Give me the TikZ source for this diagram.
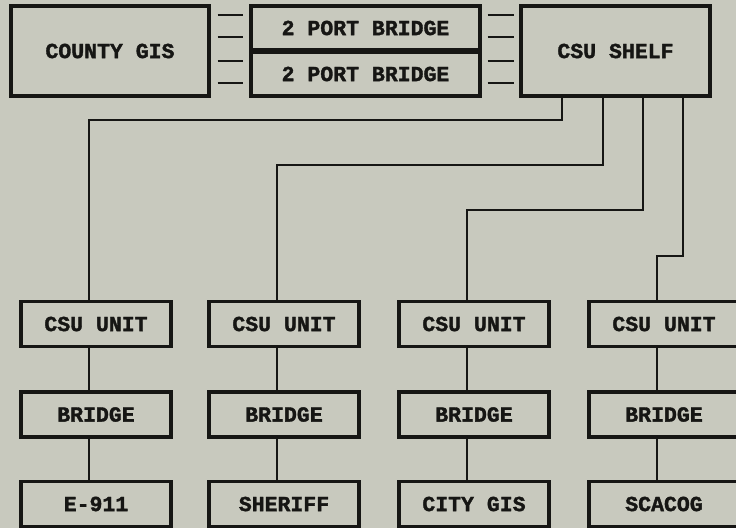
\documentclass[tikz,border=0pt]{standalone}
\usepackage{fontspec}
\newfontfamily\boxfont{Liberation Mono}[BoldFont={Liberation Mono Bold}, BoldFeatures={FakeBold=1.6}]
\usepackage{tikz}
\usetikzlibrary{calc,positioning}
\definecolor{paper}{RGB}{200,201,190}
\definecolor{ink}{RGB}{22,22,20}

\begin{document}
\begin{tikzpicture}[
  x=1pt, y=-1pt,
  box/.style={draw=ink, line width=3.2pt, fill=paper, inner sep=0pt,
    text=ink, font=\boxfont\bfseries\fontsize{21.5}{24}\selectfont},
  bigbox/.style={box, minimum width=198pt, minimum height=90pt},
  halfbox/.style={box, minimum width=229pt, minimum height=44pt},
  unitbox/.style={box, minimum width=150pt, minimum height=45pt},
  link/.style={draw=ink, line width=1.3pt}
]

% Page and background
\useasboundingbox (0,0) rectangle (736,528);
\clip (0,0) rectangle (736,528);
\fill[paper] (0,0) rectangle (736,528);

% Top row
\node[bigbox] (county) at (110,51) {COUNTY GIS};
\node[halfbox] (brgTop) at (365.5,28) {2 PORT BRIDGE};
\node[halfbox] (brgBot) at (365.5,74) {2 PORT BRIDGE};
\node[box, minimum width=189pt, minimum height=90pt] (shelf) at (615.5,51) {CSU SHELF};

% Short links beside the bridges
\foreach \y in {15,37,61,83} {
  \draw[link, shorten <=7pt, shorten >=6pt] (county.east |- 0,\y) -- (brgTop.west |- 0,\y);
  \draw[link, shorten <=6pt, shorten >=5pt] (brgTop.east |- 0,\y) -- (shelf.west |- 0,\y);
}

% Lower columns
\foreach \c/\x/\name in {A/96/E-911, B/284/SHERIFF, C/474/CITY GIS, D/664/SCACOG} {
  \node[unitbox] (unit\c) at (\x,324) {CSU UNIT};
  \node[unitbox] (brg\c) at (\x,414.5) {BRIDGE};
  \node[unitbox] (end\c) at (\x,504) {\name};
  \draw[link] ([xshift=-7pt]unit\c.south) -- ([xshift=-7pt]brg\c.north);
  \draw[link] ([xshift=-7pt]brg\c.south) -- ([xshift=-7pt]end\c.north);
  \coordinate (in\c) at ([xshift=-7pt]unit\c.north);
}

% Shelf feeders
\coordinate (outA) at ([xshift=-53.5pt]shelf.south);
\coordinate (outB) at ([xshift=-12.5pt]shelf.south);
\coordinate (outC) at ([xshift=27.5pt]shelf.south);
\coordinate (outD) at ([xshift=67.5pt]shelf.south);
\draw[link] (outA) -- (outA |- 0,120) -| (inA);
\draw[link] (outB) -- (outB |- 0,165) -| (inB);
\draw[link] (outC) -- (outC |- 0,210) -| (inC);
\draw[link] (outD) -- (outD |- 0,256) -| (inD);

\end{tikzpicture}
\end{document}
